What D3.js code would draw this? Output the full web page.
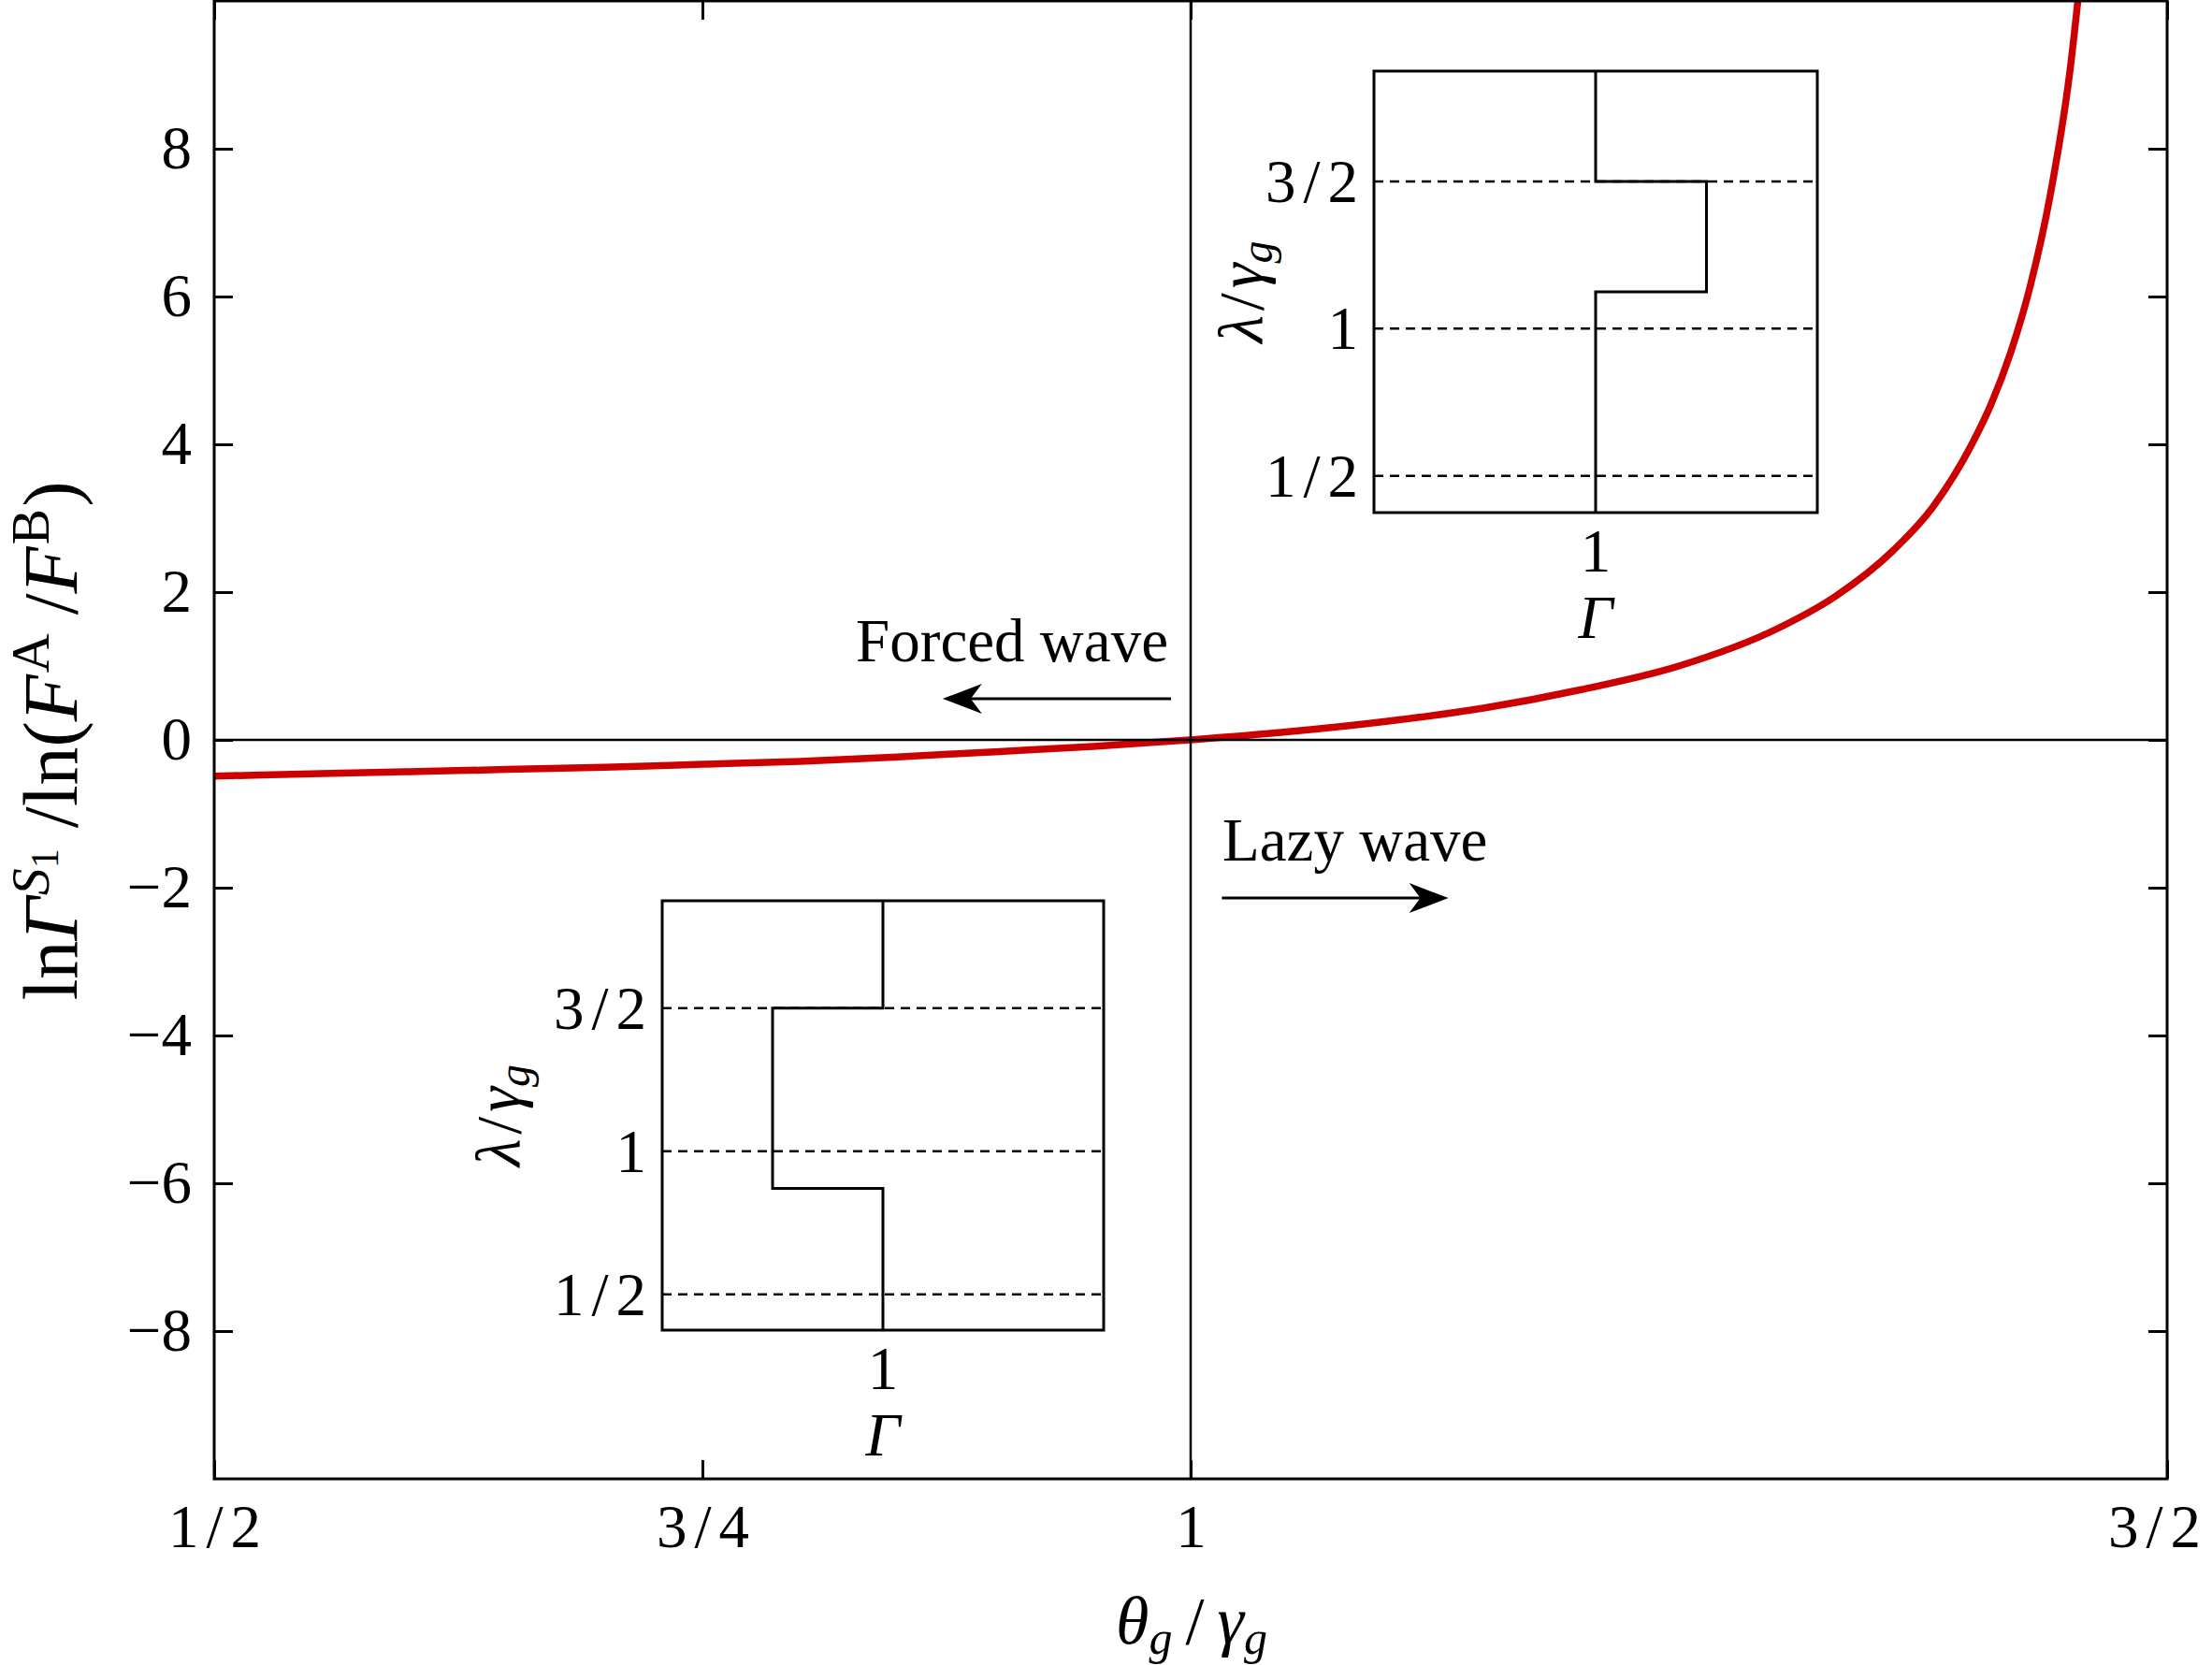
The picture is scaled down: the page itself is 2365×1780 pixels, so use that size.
<!DOCTYPE html>
<html><head><meta charset="utf-8">
<script src="https://cdn.jsdelivr.net/npm/d3@7"></script>
<style>
html,body{margin:0;padding:0;background:#fff;}
svg{display:block;}
text{font-family:"Liberation Serif","Times New Roman",serif;fill:#000;}
</style></head><body>
<svg id="chart" width="2365" height="1780"></svg>
<script>
// ---------- data ----------
const xTicks = [0.5, 0.75, 1, 1.5];
const xTickLabels = ["1/2", "3/4", "1", "3/2"];
const yTicks = [-8, -6, -4, -2, 0, 2, 4, 6, 8];
const yTickLabels = ["\u22128", "\u22126", "\u22124", "\u22122", "0", "2", "4", "6", "8"];

// theta_g / gamma_g
const ratioX = [0.50, 0.55, 0.60, 0.65, 0.70, 0.75, 0.80, 0.85, 0.90, 0.95, 1.00,
                1.05, 1.10, 1.15, 1.20, 1.25, 1.30, 1.33, 1.36, 1.38, 1.40, 1.41,
                1.42, 1.43, 1.44, 1.45, 1.46];
// ln Gamma^S1 / ln(F^A/F^B)
const lnRatioY = [-0.49, -0.46, -0.43, -0.40, -0.37, -0.33, -0.29, -0.23, -0.16, -0.09, 0.00,
                  0.11, 0.25, 0.43, 0.68, 1.00, 1.50, 1.94, 2.57, 3.15, 4.00, 4.55,
                  5.25, 6.15, 7.35, 9.00, 11.5];

// insets
const insetLambdaTicks = [0.5, 1, 1.5];
const insetLambdaLabels = ["1/2", "1", "3/2"];
const insetGammaTicks = [1];
const insetGammaLabels = ["1"];
const upperStepGamma  = [1, 1, 1.5, 1.5, 1, 1];
const upperStepLambda = [1.875, 1.5, 1.5, 1.125, 1.125, 0.375];
const lowerStepGamma  = [1, 1, 0.5, 0.5, 1, 1];
const lowerStepLambda = [1.875, 1.5, 1.5, 0.87, 0.87, 0.375];

// annotations (data coordinates)
const forcedText = {x: 0.9885, y: 1.06, label: "Forced wave"};
const forcedArrow = {x0: 0.990, x1: 0.873, y: 0.557};
const lazyText = {x: 1.0163, y: -1.633, label: "Lazy wave"};
const lazyArrow = {x0: 1.016, x1: 1.132, y: -2.14};

// ---------- layout ----------
const svg = d3.select("#chart");
const L = 229, R = 2317, T = 1, B = 1581;
const FS = 65;
const FRAC_LS = 8; // letter spacing used for fraction labels
const x = d3.scaleLinear().domain([0.5, 1.5]).range([L, R]);
const y = d3.scaleLinear().domain([-10, 10]).range([B, T]);

svg.append("defs").append("clipPath").attr("id", "plotclip")
  .append("rect").attr("x", L).attr("y", T).attr("width", R - L).attr("height", B - T);

// curve
const line = d3.line().x(d => x(d[0])).y(d => y(d[1])).curve(d3.curveMonotoneX);
svg.append("path").datum(d3.zip(ratioX, lnRatioY))
  .attr("clip-path", "url(#plotclip)")
  .attr("d", line).attr("fill", "none")
  .attr("stroke", "#cc0000").attr("stroke-width", 7.5).attr("stroke-linejoin", "round");

// reference lines
svg.append("line").attr("x1", L).attr("x2", R).attr("y1", y(0)).attr("y2", y(0))
  .attr("stroke", "#000").attr("stroke-width", 2.5);
svg.append("line").attr("x1", x(1)).attr("x2", x(1)).attr("y1", T).attr("y2", B)
  .attr("stroke", "#000").attr("stroke-width", 2.5);

// axes
function styleAxis(g) {
  g.select(".domain").remove();
  g.selectAll(".tick line").attr("stroke", "#000").attr("stroke-width", 3);
  g.selectAll(".tick text").attr("font-size", FS)
    .attr("font-family", '"Liberation Serif","Times New Roman",serif').attr("fill", "#000");
  g.attr("font-size", FS).attr("font-family", '"Liberation Serif","Times New Roman",serif');
}
const yFmt = d => yTickLabels[yTicks.indexOf(d)];
const xFmt = d => xTickLabels[xTicks.indexOf(d)];
svg.append("g").attr("transform", `translate(${L},0)`)
  .call(d3.axisLeft(y).tickValues(yTicks).tickFormat(yFmt).tickSize(-20).tickPadding(24))
  .call(styleAxis);
svg.append("g").attr("transform", `translate(${R},0)`)
  .call(d3.axisRight(y).tickValues(yTicks).tickFormat("").tickSize(-20))
  .call(styleAxis);
const xAxisG = svg.append("g").attr("transform", `translate(0,${B})`)
  .call(d3.axisBottom(x).tickValues(xTicks).tickFormat(xFmt).tickSize(-20).tickPadding(27))
  .call(styleAxis);
xAxisG.selectAll(".tick text").filter(function() { return this.textContent.includes("/"); })
  .attr("letter-spacing", FRAC_LS)
  .attr("dx", d => d === xTicks[xTicks.length - 1] ? -10 : FRAC_LS / 2);
svg.append("g").attr("transform", `translate(0,${T})`)
  .call(d3.axisTop(x).tickValues(xTicks).tickFormat("").tickSize(-20))
  .call(styleAxis);

// frame
svg.append("rect").attr("x", L).attr("y", T).attr("width", R - L).attr("height", B - T)
  .attr("fill", "none").attr("stroke", "#000").attr("stroke-width", 3);

// axis labels
const xl = svg.append("text").attr("x", (L + R) / 2 + 1).attr("y", 1757)
  .attr("text-anchor", "middle").attr("font-size", 72);
xl.append("tspan").attr("font-style", "italic").text("\u03B8");
xl.append("tspan").attr("font-style", "italic").attr("font-size", 50).attr("dy", 11).text("g");
xl.append("tspan").attr("dy", -11).attr("dx", 14).text("/");
xl.append("tspan").attr("font-style", "italic").attr("dx", 14).text("\u03B3");
xl.append("tspan").attr("font-style", "italic").attr("font-size", 50).attr("dy", 11).text("g");

const yl = svg.append("text").attr("transform", "translate(82,792) rotate(-90)")
  .attr("text-anchor", "middle").attr("font-size", 82);
yl.append("tspan").text("ln");
yl.append("tspan").attr("font-style", "italic").text("\u0393");
yl.append("tspan").attr("font-style", "italic").attr("font-size", 58).attr("dy", -30).attr("dx", 2).text("S");
yl.append("tspan").attr("font-size", 42).attr("dy", 10).text("1");
yl.append("tspan").attr("dy", 20).attr("dx", 22).text("/ln(");
yl.append("tspan").attr("font-style", "italic").text("F");
yl.append("tspan").attr("font-size", 58).attr("dy", -30).attr("dx", 2).text("A");
yl.append("tspan").attr("dy", 30).attr("dx", 20).text("/");
yl.append("tspan").attr("font-style", "italic").text("F");
yl.append("tspan").attr("font-size", 58).attr("dy", -30).attr("dx", 2).text("B");
yl.append("tspan").attr("dy", 30).attr("dx", 2).text(")");

// annotations
function arrow(a) {
  const x0 = x(a.x0), x1 = x(a.x1), yy = y(a.y), dir = Math.sign(x1 - x0);
  svg.append("line").attr("x1", x0).attr("x2", x1 - dir * 28).attr("y1", yy).attr("y2", yy)
    .attr("stroke", "#000").attr("stroke-width", 3);
  const p = d3.path();
  p.moveTo(x1, yy);
  p.lineTo(x1 - dir * 42, yy - 16);
  p.lineTo(x1 - dir * 30, yy);
  p.lineTo(x1 - dir * 42, yy + 16);
  p.closePath();
  svg.append("path").attr("d", p.toString()).attr("fill", "#000");
}
svg.append("text").attr("x", x(forcedText.x)).attr("y", y(forcedText.y))
  .attr("text-anchor", "end").attr("font-size", FS).text(forcedText.label);
arrow(forcedArrow);
svg.append("text").attr("x", x(lazyText.x)).attr("y", y(lazyText.y))
  .attr("text-anchor", "start").attr("font-size", FS).text(lazyText.label);
arrow(lazyArrow);

// insets
function drawInset(bx, by, bw, bh, gam, lam, labX) {
  const gx = d3.scaleLinear().domain([0, 2]).range([bx, bx + bw]);
  const ly = d3.scaleLinear().domain([0.375, 1.875]).range([by + bh, by]);
  const g = svg.append("g");
  g.append("rect").attr("x", bx).attr("y", by).attr("width", bw).attr("height", bh)
    .attr("fill", "#fff").attr("stroke", "none");
  g.selectAll("line.dash").data(insetLambdaTicks).enter().append("line")
    .attr("x1", bx).attr("x2", bx + bw).attr("y1", d => ly(d)).attr("y2", d => ly(d))
    .attr("stroke", "#000").attr("stroke-width", 2.5).attr("stroke-dasharray", "10,7");
  g.selectAll("text.lt").data(insetLambdaTicks).enter().append("text")
    .attr("x", (d, i) => bx - 17 + (insetLambdaLabels[i].includes("/") ? FRAC_LS : 0))
    .attr("y", d => ly(d) + 22).attr("text-anchor", "end")
    .attr("letter-spacing", (d, i) => insetLambdaLabels[i].includes("/") ? FRAC_LS : 0)
    .attr("font-size", FS).text((d, i) => insetLambdaLabels[i]);
  g.selectAll("text.gt").data(insetGammaTicks).enter().append("text")
    .attr("x", d => gx(d)).attr("y", by + bh + 63).attr("text-anchor", "middle")
    .attr("font-size", FS).text((d, i) => insetGammaLabels[i]);
  g.append("text").attr("x", gx(1)).attr("y", by + bh + 134).attr("text-anchor", "middle")
    .attr("font-size", FS).attr("font-style", "italic").text("\u0393");
  const sl = d3.line().x(d => gx(d[0])).y(d => ly(d[1]));
  g.append("path").datum(d3.zip(gam, lam)).attr("d", sl).attr("fill", "none")
    .attr("stroke", "#000").attr("stroke-width", 3);
  g.append("rect").attr("x", bx).attr("y", by).attr("width", bw).attr("height", bh)
    .attr("fill", "none").attr("stroke", "#000").attr("stroke-width", 3);
  const t = g.append("text").attr("transform", `translate(${labX},${by + bh / 2}) rotate(-90)`)
    .attr("text-anchor", "middle").attr("font-size", 68);
  t.append("tspan").attr("font-style", "italic").text("\u03BB");
  t.append("tspan").attr("dx", 5).text("/");
  t.append("tspan").attr("font-style", "italic").attr("dx", 5).text("\u03B3");
  t.append("tspan").attr("font-style", "italic").attr("font-size", 48).attr("dy", 10).text("g");
}
drawInset(1469, 76, 474, 472, upperStepGamma, upperStepLambda, 1350);
drawInset(708, 963, 472, 459, lowerStepGamma, lowerStepLambda, 556);
</script>
</body></html>
